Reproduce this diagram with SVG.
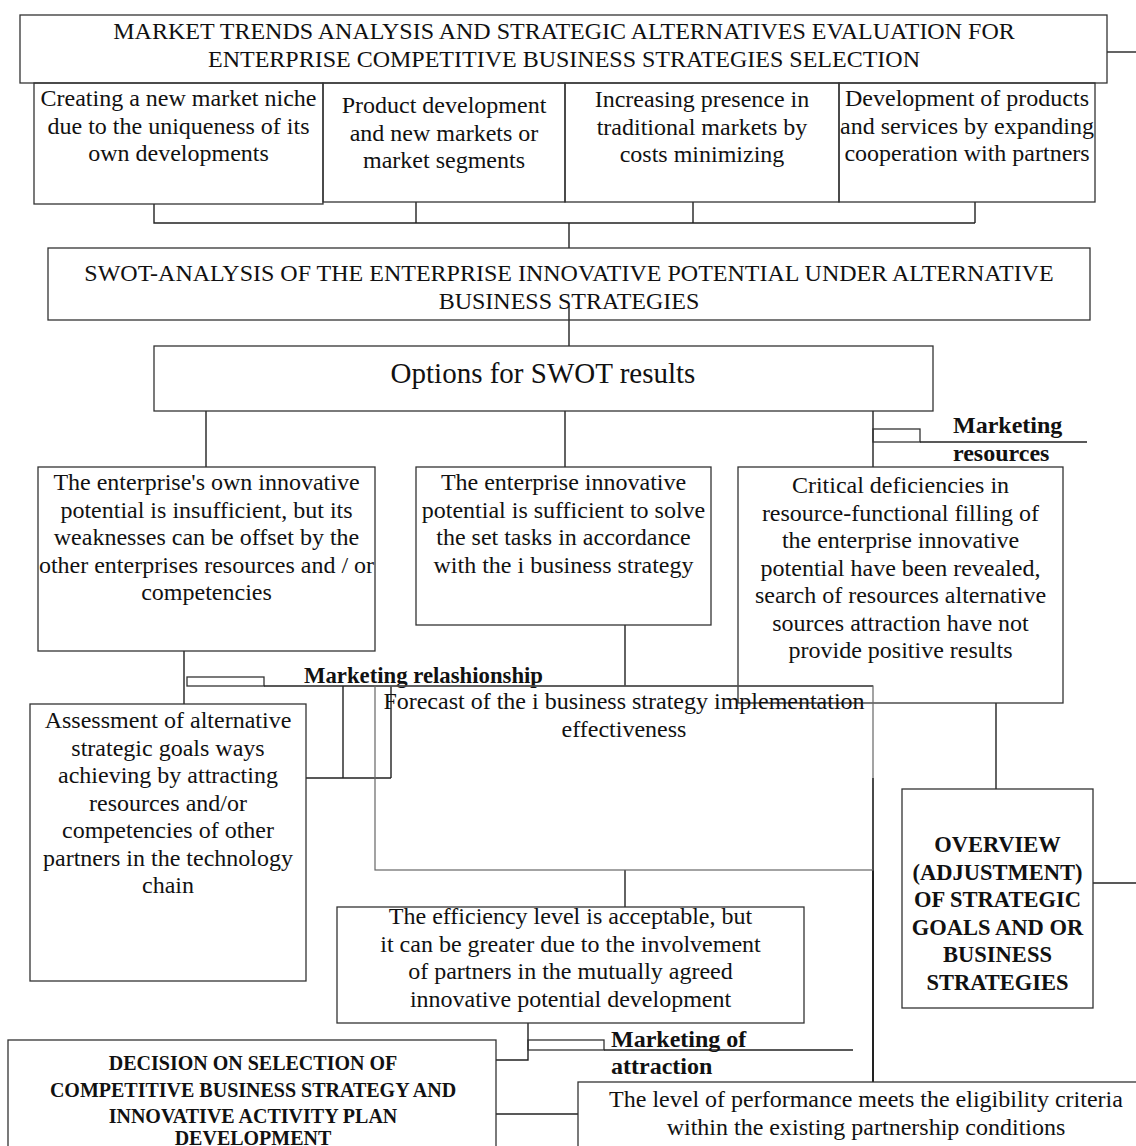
<svg xmlns="http://www.w3.org/2000/svg" width="1136" height="1146" viewBox="0 0 1136 1146">
<style>
.box{fill:none;stroke:#333;stroke-width:1.3}
.gbox{fill:none;stroke:#666;stroke-width:1.2}
.ln{fill:none;stroke:#222;stroke-width:1.4}
.t{font-family:"Liberation Serif","Times New Roman",serif;font-size:24px;fill:#111;text-anchor:middle}
.big{font-size:29px}
.b{font-family:"Liberation Serif","Times New Roman",serif;font-weight:bold;fill:#111}
.lbl{font-size:24px}
.ov{font-size:22.5px;text-anchor:middle}
.dec{font-size:20px;text-anchor:middle}
</style>
<rect x="0" y="0" width="1136" height="1146" fill="#fff"/>

<g id="connectors">
<path class="ln" d="M154,204V223H975M416,202V223M693,202V223M975,202V223M569,223V248"/>
<path class="ln" d="M1107,52H1136"/>
<path class="ln" d="M569,306V346"/>
<path class="ln" d="M206,411V467M565,411V467M873,411V467"/>
<path class="ln" d="M184,651V704"/>
<path class="ln" d="M625,625V686"/>
<path class="ln" d="M343,686V778M391,686V778M306,778H391"/>
<path class="ln" d="M625,870V907"/>
<path class="ln" d="M996,703V789"/>
<path class="ln" d="M1093,883H1136"/>
<path class="ln" d="M873,778V1082" style="stroke-width:2"/>
<path class="ln" d="M528,1023V1060H496"/>
<path class="ln" d="M496,1114H578"/>
</g>

<g id="label-resources">
<rect class="box" x="873" y="429" width="47" height="13"/>
<path class="ln" d="M920,442H1087"/>
<text class="b lbl" x="953" y="433">Marketing</text>
<text class="b lbl" x="953" y="461">resources</text>
</g>

<g id="label-relationship">
<rect class="box" x="187" y="677" width="77" height="9"/>
<path class="ln" d="M264,686H873"/>
<text class="b lbl" x="304" y="683" textLength="239" lengthAdjust="spacingAndGlyphs">Marketing relashionship</text>
</g>

<g id="label-attraction">
<rect class="box" x="528" y="1040" width="76" height="10"/>
<path class="ln" d="M604,1050H853"/>
<text class="b lbl" x="611" y="1047">Marketing of</text>
<text class="b lbl" x="611" y="1074">attraction</text>
</g>

<g id="n-title">
<rect class="box" x="20" y="15" width="1087" height="68"/>
<text class="t"><tspan x="564" y="39">MARKET TRENDS ANALYSIS AND STRATEGIC ALTERNATIVES EVALUATION FOR</tspan><tspan x="564" y="66.5">ENTERPRISE COMPETITIVE BUSINESS STRATEGIES SELECTION</tspan></text>
</g>

<g id="n-opt1">
<rect class="box" x="34" y="83" width="289" height="121"/>
<text class="t"><tspan x="178.5" y="106">Creating a new market niche</tspan><tspan x="178.5" y="133.5">due to the uniqueness of its</tspan><tspan x="178.5" y="161">own developments</tspan></text>
</g>

<g id="n-opt2">
<rect class="box" x="323" y="83" width="242" height="119"/>
<text class="t"><tspan x="444" y="113">Product development</tspan><tspan x="444" y="140.5">and new markets or</tspan><tspan x="444" y="168">market segments</tspan></text>
</g>

<g id="n-opt3">
<rect class="box" x="565" y="83" width="274" height="119"/>
<text class="t"><tspan x="702" y="107">Increasing presence in</tspan><tspan x="702" y="134.5">traditional markets by</tspan><tspan x="702" y="162">costs minimizing</tspan></text>
</g>

<g id="n-opt4">
<rect class="box" x="839" y="83" width="256" height="119"/>
<text class="t"><tspan x="967" y="106">Development of products</tspan><tspan x="967" y="133.5">and services by expanding</tspan><tspan x="967" y="161">cooperation with partners</tspan></text>
</g>

<g id="n-swot">
<rect class="box" x="48" y="248" width="1042" height="72"/>
<text class="t"><tspan x="569" y="281">SWOT-ANALYSIS OF THE ENTERPRISE INNOVATIVE POTENTIAL UNDER ALTERNATIVE</tspan><tspan x="569" y="308.5">BUSINESS STRATEGIES</tspan></text>
</g>

<g id="n-options">
<rect class="box" x="154" y="346" width="779" height="65"/>
<text class="t big" x="543" y="383">Options for SWOT results</text>
</g>

<g id="n-insufficient">
<rect class="box" x="38" y="467" width="337" height="184"/>
<text class="t"><tspan x="206.5" y="490">The enterprise's own innovative</tspan><tspan x="206.5" y="517.5">potential is insufficient, but its</tspan><tspan x="206.5" y="545">weaknesses can be offset by the</tspan><tspan x="206.5" y="572.5">other enterprises resources and / or</tspan><tspan x="206.5" y="600">competencies</tspan></text>
</g>

<g id="n-sufficient">
<rect class="box" x="416" y="467" width="295" height="158"/>
<text class="t"><tspan x="563.5" y="490">The enterprise innovative</tspan><tspan x="563.5" y="517.5">potential is sufficient to solve</tspan><tspan x="563.5" y="545">the set tasks in accordance</tspan><tspan x="563.5" y="572.5">with the i business strategy</tspan></text>
</g>

<g id="n-critical">
<rect class="box" x="738" y="467" width="325" height="236"/>
<text class="t"><tspan x="900.5" y="493">Critical deficiencies in</tspan><tspan x="900.5" y="520.5">resource-functional filling of</tspan><tspan x="900.5" y="548">the enterprise innovative</tspan><tspan x="900.5" y="575.5">potential have been revealed,</tspan><tspan x="900.5" y="603">search of resources alternative</tspan><tspan x="900.5" y="630.5">sources attraction have not</tspan><tspan x="900.5" y="658">provide positive results</tspan></text>
</g>

<g id="n-forecast">
<rect class="gbox" x="375" y="686" width="498" height="184"/>
<text class="t"><tspan x="624" y="709">Forecast of the i business strategy implementation</tspan><tspan x="624" y="736.5">effectiveness</tspan></text>
</g>

<g id="n-assessment">
<rect class="box" x="30" y="704" width="276" height="277"/>
<text class="t"><tspan x="168" y="728">Assessment of alternative</tspan><tspan x="168" y="755.5">strategic goals ways</tspan><tspan x="168" y="783">achieving by attracting</tspan><tspan x="168" y="810.5">resources and/or</tspan><tspan x="168" y="838">competencies of other</tspan><tspan x="168" y="865.5">partners in the technology</tspan><tspan x="168" y="893">chain</tspan></text>
</g>

<g id="n-overview">
<rect class="box" x="902" y="789" width="191" height="219"/>
<text class="b ov"><tspan x="997.5" y="852">OVERVIEW</tspan><tspan x="997.5" y="879.5">(ADJUSTMENT)</tspan><tspan x="997.5" y="907">OF STRATEGIC</tspan><tspan x="997.5" y="934.5">GOALS AND OR</tspan><tspan x="997.5" y="962">BUSINESS</tspan><tspan x="997.5" y="989.5">STRATEGIES</tspan></text>
</g>

<g id="n-efficiency">
<rect class="box" x="337" y="907" width="467" height="116"/>
<text class="t"><tspan x="570.5" y="924">The efficiency level is acceptable, but</tspan><tspan x="570.5" y="951.5">it can be greater due to the involvement</tspan><tspan x="570.5" y="979">of partners in the mutually agreed</tspan><tspan x="570.5" y="1006.5">innovative potential development</tspan></text>
</g>

<g id="n-decision">
<rect class="box" x="8" y="1040" width="488" height="120"/>
<text class="b dec"><tspan x="253" y="1070">DECISION ON SELECTION OF</tspan><tspan x="253" y="1096.5">COMPETITIVE BUSINESS STRATEGY AND</tspan><tspan x="253" y="1123">INNOVATIVE ACTIVITY PLAN</tspan><tspan x="253" y="1145">DEVELOPMENT</tspan></text>
</g>

<g id="n-performance">
<rect class="box" x="578" y="1082" width="572" height="80"/>
<text class="t"><tspan x="866" y="1107">The level of performance meets the eligibility criteria</tspan><tspan x="866" y="1134.5">within the existing partnership conditions</tspan></text>
</g>
</svg>
